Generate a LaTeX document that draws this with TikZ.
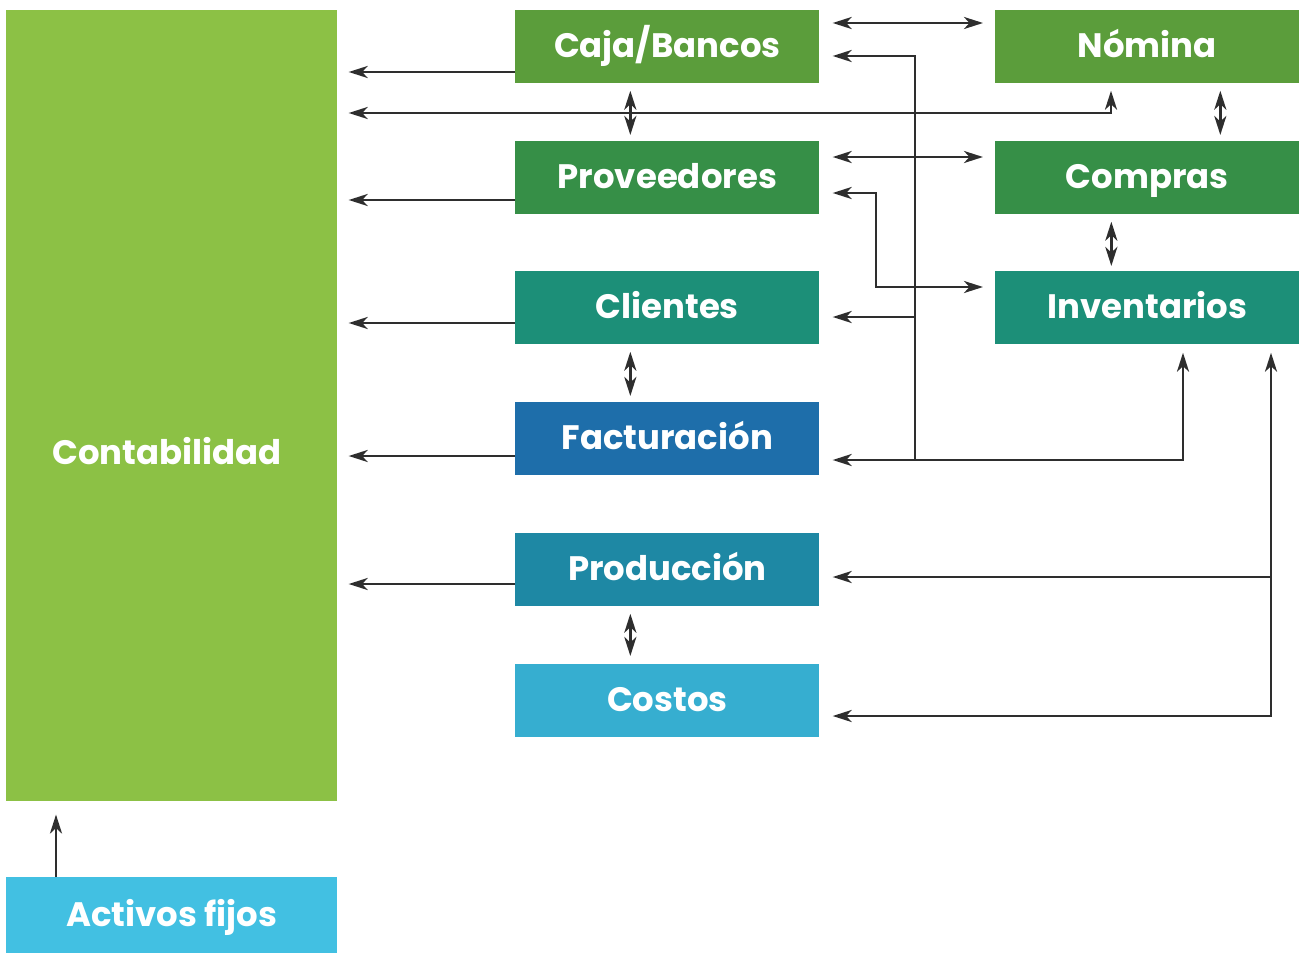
\documentclass[tikz,border=0pt]{standalone}
\usepackage{fontspec}
\setmainfont{Poppins}
\usepackage{xcolor}
\usepackage{tikz}
\definecolor{contagreen}{RGB}{140, 193, 69}
\definecolor{cajagreen}{RGB}{91, 157, 59}
\definecolor{provgreen}{RGB}{54, 143, 71}
\definecolor{clienteal}{RGB}{28, 143, 120}
\definecolor{factblue}{RGB}{30, 110, 170}
\definecolor{prodblue}{RGB}{30, 136, 164}
\definecolor{costoscyan}{RGB}{54, 174, 208}
\definecolor{activoscyan}{RGB}{66, 192, 226}
\definecolor{linegray}{RGB}{46, 46, 46}
\usetikzlibrary{arrows.meta, positioning, calc}

\tikzset{
    modbox/.style={anchor=north west, minimum width=6.08cm, minimum height=1.46cm,
        inner sep=0pt, text height=0.43cm, text depth=0pt, text=white,
        font=\fontsize{19.3}{23}\selectfont\bfseries},
    tip/.style={Stealth[length=0.38cm, width=0.24cm, inset=0.11cm]},
    arr/.style={draw=linegray, line width=1.6pt, -{Stealth[length=0.38cm, width=0.24cm, inset=0.11cm]},
        shorten >=0.26cm},
    darr/.style={draw=linegray, line width=1.6pt,
        {Stealth[length=0.38cm, width=0.24cm, inset=0.11cm]}-{Stealth[length=0.38cm, width=0.24cm, inset=0.11cm]},
        shorten >=0.14cm, shorten <=0.14cm}
}

\begin{document}
\begin{tikzpicture}[x=0.02cm, y=-0.02cm]
    \useasboundingbox (0,0) rectangle (1304,953);

    % Big block and fixed assets
    \node[modbox, fill=contagreen, minimum width=6.62cm, minimum height=15.82cm] (contab) at (6,10) {};
    \node[text=white, font=\fontsize{19.3}{23}\selectfont\bfseries] (contabtxt) at (167,451) {Contabilidad};
    \node[modbox, fill=activoscyan, minimum width=6.62cm, minimum height=1.52cm] (activos) at (6,877) {Activos fijos};

    % Middle column
    \node[modbox, fill=cajagreen] (caja) at (515,10) {Caja/Bancos};
    \node[modbox, fill=provgreen] (prov) at (515,141) {Proveedores};
    \node[modbox, fill=clienteal] (clien) at (515,271) {Clientes};
    \node[modbox, fill=factblue] (fact) at (515,402) {Facturación};
    \node[modbox, fill=prodblue] (prod) at (515,533) {Producción};
    \node[modbox, fill=costoscyan] (costos) at (515,664) {Costos};

    % Right column
    \node[modbox, fill=cajagreen] (nomina) at (995,10) {Nómina};
    \node[modbox, fill=provgreen] (compras) at (995,141) {Compras};
    \node[modbox, fill=clienteal] (inv) at (995,271) {Inventarios};

    % Into Contabilidad
    \foreach \n/\y in {caja/72, prov/200, clien/323, fact/456, prod/584}
        \draw[arr, shorten >=0.22cm] (\n.west |- 0,\y) -- (contab.east |- 0,\y);
    \draw[darr, shorten <=0.22cm] (contab.east |- 0,113) -| (nomina.south -| 1111,0);
    \draw[arr] (activos.north -| 56,0) -- (contab.south -| 56,0);

    % Vertical pairs
    \draw[darr, shorten >=0.12cm] ([xshift=-0.74cm]caja.south) -- ([xshift=-0.74cm]prov.north);
    \draw[darr, shorten >=0.12cm] ([xshift=-0.74cm]clien.south) -- ([xshift=-0.74cm]fact.north);
    \draw[darr, shorten >=0.16cm] ([xshift=-0.74cm]prod.south) -- ([xshift=-0.74cm]costos.north);
    \draw[darr, shorten >=0.12cm] ([xshift=1.46cm]nomina.south) -- ([xshift=1.46cm]compras.north);
    \draw[darr, shorten >=0.10cm] ([xshift=-0.72cm]compras.south) -- ([xshift=-0.72cm]inv.north);

    % Horizontal pairs
    \draw[darr, shorten <=0.26cm, shorten >=0.24cm] (caja.east |- 0,23) -- (nomina.west |- 0,23);
    \draw[darr, shorten <=0.26cm, shorten >=0.24cm] (prov.east |- 0,157) -- (compras.west |- 0,157);
    \draw[darr, shorten <=0.26cm, shorten >=0.24cm] (prov.east |- 0,193) -| (876,287) -- (inv.west |- 0,287);

    % Trunk from Facturacion
    \coordinate (trunkbot) at (915,460);
    \coordinate (trunkcli) at (915,317);
    \draw[darr, shorten <=0.26cm, shorten >=0.16cm] (fact.east |- trunkbot) -| (inv.south -| 1183,0);
    \draw[arr] (trunkbot) |- (caja.east |- 0,56);
    \draw[arr] (trunkcli) -- (clien.east |- trunkcli);

    % Trunk to Produccion and Costos
    \coordinate (prodjoin) at (1271,577);
    \draw[darr, shorten <=0.26cm, shorten >=0.16cm] (costos.east |- 0,716) -| (inv.south -| 1271,0);
    \draw[arr] (prodjoin) -- (prod.east |- prodjoin);
\end{tikzpicture}
\end{document}
